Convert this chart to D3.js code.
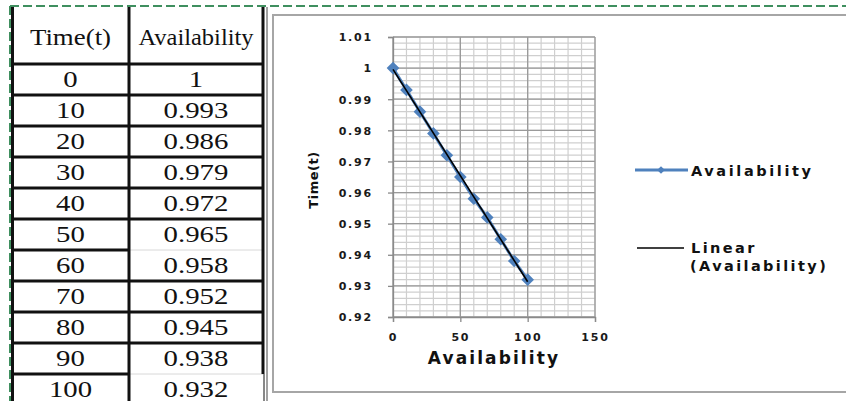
<!DOCTYPE html>
<html>
<head>
<meta charset="utf-8">
<script src="https://cdn.jsdelivr.net/npm/d3@7"></script>
<style>
  html, body { margin: 0; padding: 0; background: #fff; }
  svg { display: block; }
</style>
</head>
<body>
<svg id="fig" width="846" height="401"></svg>
<script>
// Availability of the system over time
const times = [0, 10, 20, 30, 40, 50, 60, 70, 80, 90, 100];
const availability = [1, 0.993, 0.986, 0.979, 0.972, 0.965, 0.958, 0.952, 0.945, 0.938, 0.932];
const tableHeaders = ["Time(t)", "Availability"];
const xTicks = [0, 50, 100, 150];
const yTicks = [0.92, 0.93, 0.94, 0.95, 0.96, 0.97, 0.98, 0.99, 1, 1.01];
const legendLabels = ["Availability", ["Linear", "(Availability)"]];

const svg = d3.select("#fig");
const BLUE = "#4F81BD";
const chartFont = "'DejaVu Sans', sans-serif";

// ---- sheet frame (dashed selection border) ----
svg.append("line").attr("x1", 10).attr("x2", 846).attr("y1", 6).attr("y2", 6)
  .attr("stroke", "#3f8f5f").attr("stroke-width", 2).attr("stroke-dasharray", "9,4");
svg.append("line").attr("x1", 10).attr("x2", 10).attr("y1", 6).attr("y2", 401)
  .attr("stroke", "#3f8f5f").attr("stroke-width", 2).attr("stroke-dasharray", "9,4");

// ---- data table ----
const tbl = svg.append("g");
const colX = [12.5, 129, 263];
const headerBottom = 64, rowH = 31;
const rowY = d3.range(times.length + 1).map(i => headerBottom + i * rowH);

// horizontal rules
rowY.slice(0, times.length).forEach((y, i) => {
  const thinRight = (i === 6 || i === 10);
  tbl.append("line").attr("x1", colX[0]).attr("x2", colX[1]).attr("y1", y).attr("y2", y)
    .attr("stroke", "#111").attr("stroke-width", 3);
  tbl.append("line").attr("x1", colX[1]).attr("x2", colX[2]).attr("y1", y).attr("y2", y)
    .attr("stroke", thinRight ? "#d8d8d8" : "#111").attr("stroke-width", thinRight ? 1 : 3);
});
// vertical rules
tbl.append("line").attr("x1", colX[0]).attr("x2", colX[0]).attr("y1", 7).attr("y2", 401)
  .attr("stroke", "#111").attr("stroke-width", 3);
tbl.append("line").attr("x1", colX[1]).attr("x2", colX[1]).attr("y1", 7).attr("y2", 401)
  .attr("stroke", "#111").attr("stroke-width", 3);
tbl.append("line").attr("x1", colX[2]).attr("x2", colX[2]).attr("y1", 7).attr("y2", 374)
  .attr("stroke", "#111").attr("stroke-width", 3);
tbl.append("line").attr("x1", colX[2] + 1).attr("x2", colX[2] + 1).attr("y1", 374).attr("y2", 401)
  .attr("stroke", "#111").attr("stroke-width", 1);
tbl.append("line").attr("x1", 267).attr("x2", 267).attr("y1", 7).attr("y2", 401)
  .attr("stroke", "#444").attr("stroke-width", 1);

// cell text: serif, slightly widened like the sheet's rendering
const serif = "'Liberation Serif', 'Times New Roman', serif";
const colCx = [70.5, 196];
function cellText(cx, cy, txt, sx) {
  tbl.append("text")
    .attr("transform", `translate(${cx},${cy}) scale(${sx},1)`)
    .attr("text-anchor", "middle")
    .attr("font-family", serif).attr("font-size", 24).attr("fill", "#111").text(txt);
}
const headerScale = [1.12, 1.02];
tableHeaders.forEach((h, j) => cellText(colCx[j], 45, h, headerScale[j]));
times.forEach((t, i) => {
  const cy = rowY[i] + rowH / 2 + 7.5;
  cellText(colCx[0], cy, t, 1.2);
  cellText(colCx[1], cy, availability[i], 1.2);
});

// ---- chart area ----
svg.append("rect").attr("x", 273).attr("y", 15).attr("width", 600).attr("height", 377)
  .attr("fill", "#fff").attr("stroke", "#a6a6a6").attr("stroke-width", 2);

const x = d3.scaleLinear().domain([0, 150]).range([393, 595]);
const y = d3.scaleLinear().domain([0.92, 1.01]).range([317, 37]);

const grid = svg.append("g");
// minor grid
d3.range(0, 151, 10).forEach(v => {
  grid.append("line").attr("x1", x(v)).attr("x2", x(v)).attr("y1", y(1.01)).attr("y2", y(0.92))
    .attr("stroke", "#cfcfcf").attr("stroke-width", 1.2);
});
d3.range(0, 46).map(i => 0.92 + i * 0.002).forEach(v => {
  grid.append("line").attr("x1", x(0)).attr("x2", x(150)).attr("y1", y(v)).attr("y2", y(v))
    .attr("stroke", "#cfcfcf").attr("stroke-width", 1.2);
});
// major grid
xTicks.forEach(v => {
  grid.append("line").attr("x1", x(v)).attr("x2", x(v)).attr("y1", y(1.01)).attr("y2", y(0.92))
    .attr("stroke", "#9a9a9a").attr("stroke-width", 1.3);
});
yTicks.forEach(v => {
  grid.append("line").attr("x1", x(0)).attr("x2", x(150)).attr("y1", y(v)).attr("y2", y(v))
    .attr("stroke", "#9a9a9a").attr("stroke-width", 1.3);
});

// axes
const yAxis = d3.axisLeft(y).tickValues(yTicks).tickSize(5).tickPadding(15)
  .tickFormat(d => d === 1 ? "1" : d3.format(".2f")(d));
const gy = svg.append("g").attr("transform", `translate(${x(0)},0)`).call(yAxis);
const xAxis = d3.axisBottom(x).tickValues(xTicks).tickSize(5).tickPadding(11).tickFormat(d3.format("d"));
const gx = svg.append("g").attr("transform", `translate(0,${y(0.92)})`).call(xAxis);
[gx, gy].forEach(g => {
  g.select(".domain").attr("stroke", "#8a8a8a").attr("stroke-width", 1.3);
  g.selectAll(".tick line").attr("stroke", "#8a8a8a").attr("stroke-width", 1.3);
  g.selectAll(".tick text").attr("font-family", chartFont).attr("font-weight", "bold")
    .attr("font-size", 11).attr("fill", "#1a1a1a").attr("letter-spacing", 1.8);
});
gy.selectAll(".tick text").attr("dy", "0.35em");

// axis titles
svg.append("text").attr("x", 494).attr("y", 364).attr("text-anchor", "middle")
  .attr("font-family", chartFont).attr("font-weight", "bold").attr("font-size", 17)
  .attr("letter-spacing", 2.1).attr("fill", "#111").text("Availability");
svg.append("text").attr("transform", "translate(318,180) rotate(-90)").attr("text-anchor", "middle")
  .attr("font-family", chartFont).attr("font-weight", "bold").attr("font-size", 13)
  .attr("letter-spacing", 0.5).attr("fill", "#111").text("Time(t)");

// series
const pts = times.map((t, i) => ({ t, a: availability[i] }));
const lineGen = d3.line().x(d => x(d.t)).y(d => y(d.a));
svg.append("path").datum(pts).attr("d", lineGen).attr("fill", "none")
  .attr("stroke", BLUE).attr("stroke-width", 3);
const diamond = d3.symbol().type(d3.symbolSquare).size(80);
svg.selectAll(".marker").data(pts).join("path").attr("class", "marker")
  .attr("d", diamond).attr("fill", BLUE)
  .attr("transform", d => `translate(${x(d.t)},${y(d.a)}) rotate(45)`);

// linear trendline (least squares)
const mt = d3.mean(times), ma = d3.mean(availability);
const slope = d3.sum(pts, d => (d.t - mt) * (d.a - ma)) / d3.sum(pts, d => (d.t - mt) ** 2);
const icpt = ma - slope * mt;
const trend = [0, 100].map(t => ({ t, a: icpt + slope * t }));
svg.append("path").datum(trend).attr("d", lineGen).attr("fill", "none")
  .attr("stroke", "#000").attr("stroke-width", 1.6);

// legend
const lg = svg.append("g");
lg.append("line").attr("x1", 635).attr("x2", 688).attr("y1", 170).attr("y2", 170)
  .attr("stroke", BLUE).attr("stroke-width", 3);
lg.append("path").attr("d", d3.symbol().type(d3.symbolSquare).size(30))
  .attr("fill", BLUE).attr("transform", "translate(661,170) rotate(45)");
lg.append("text").attr("x", 691).attr("y", 175.5).attr("font-family", chartFont)
  .attr("font-weight", "bold").attr("font-size", 14.5).attr("letter-spacing", 2.6)
  .attr("fill", "#111").text(legendLabels[0]);
lg.append("line").attr("x1", 637).attr("x2", 684).attr("y1", 248).attr("y2", 248)
  .attr("stroke", "#000").attr("stroke-width", 1.3);
legendLabels[1].forEach((s, i) => {
  lg.append("text").attr("x", i === 0 ? 691 : 690).attr("y", 253 + i * 18).attr("font-family", chartFont)
    .attr("font-weight", "bold").attr("font-size", 14.5).attr("letter-spacing", 2.4)
    .attr("fill", "#111").text(s);
});
</script>
</body>
</html>
